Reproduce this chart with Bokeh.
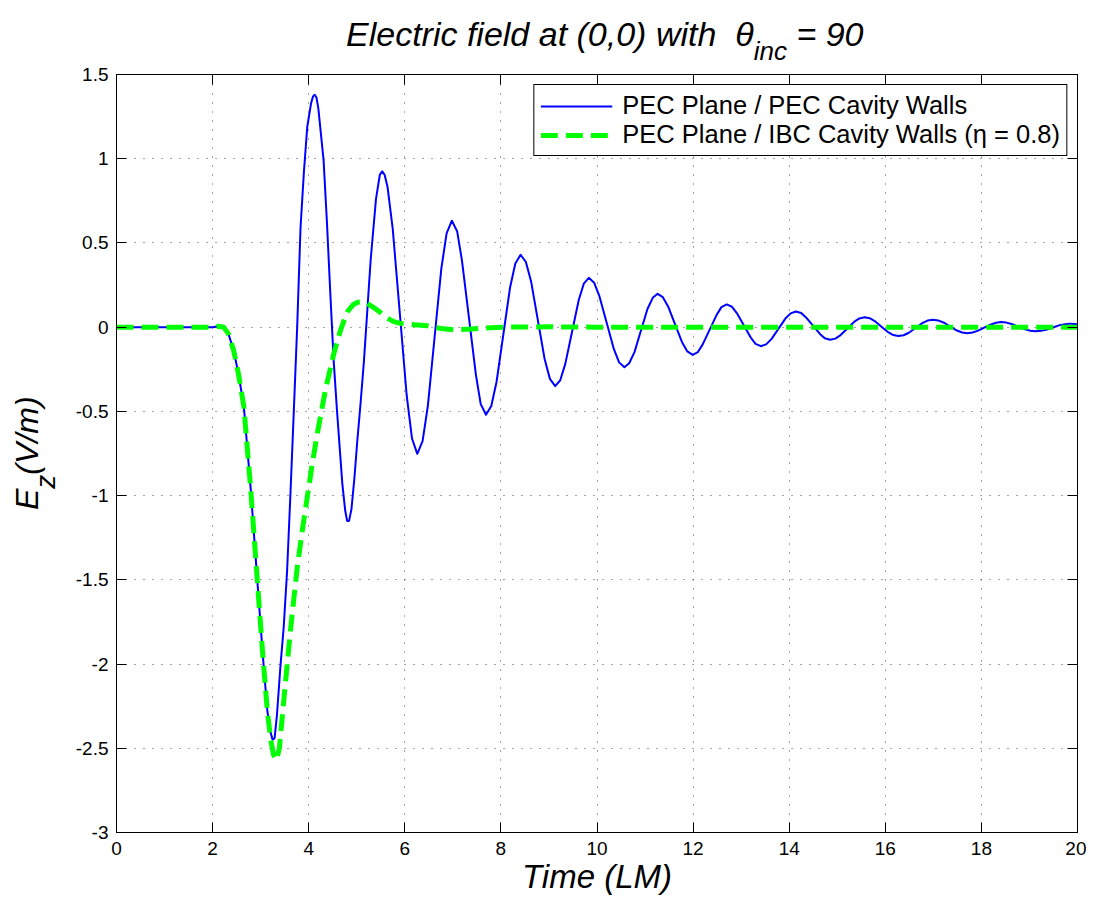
from bokeh.plotting import figure
from bokeh.models import Range1d, LinearAxis, FixedTicker, Div
from bokeh.layouts import column, row
from bokeh.embed import file_html
from bokeh.resources import INLINE

# ---- data ----
t_pec = [0.0, 1.0, 2.0, 2.12, 2.23, 2.33, 2.44, 2.54, 2.65, 2.79, 2.93, 3.04, 3.14, 3.21, 3.25, 3.29,
         3.34, 3.41, 3.48, 3.55, 3.62, 3.69, 3.76, 3.83, 3.90, 3.97, 4.05, 4.09, 4.125, 4.16,
         4.20, 4.31, 4.38, 4.45, 4.52, 4.59, 4.70, 4.76, 4.80, 4.84,
         4.89, 4.95, 5.01, 5.08, 5.15, 5.29, 5.40, 5.48, 5.53, 5.58,
         5.64, 5.75, 5.895, 6.04, 6.15, 6.26,
         6.37, 6.48, 6.62, 6.76, 6.87, 6.98,
         7.09, 7.19, 7.335, 7.48, 7.58, 7.69,
         7.80, 7.91, 8.05, 8.19, 8.30, 8.41,
         8.52, 8.63, 8.77, 8.91, 9.02, 9.13,
         9.235, 9.34, 9.48, 9.62, 9.725, 9.83,
         9.94, 10.05, 10.20, 10.35, 10.46, 10.57,
         10.67, 10.78, 10.915, 11.05, 11.16, 11.26,
         11.37, 11.48, 11.625, 11.77, 11.88, 11.99,
         12.10, 12.20, 12.345, 12.49, 12.59, 12.70,
         12.81, 12.91, 13.055, 13.20, 13.30, 13.41,
         13.52, 13.63, 13.775, 13.92, 14.03, 14.14,
         14.25, 14.35, 14.495, 14.64, 14.74, 14.85,
         14.96, 15.07, 15.21, 15.35, 15.46, 15.57,
         15.675, 15.78, 15.92, 16.06, 16.165, 16.27,
         16.38, 16.49, 16.63, 16.77, 16.88, 16.99,
         17.10, 17.21, 17.35, 17.49, 17.60, 17.71,
         17.815, 17.92, 18.06, 18.20, 18.305, 18.41,
         18.52, 18.63, 18.77, 18.91, 19.02, 19.13,
         19.24, 19.35, 19.49, 19.63, 19.74, 19.85, 20.0]
e_pec = [0.0, 0.0, 0.0, 0.005, 0.0, -0.04, -0.14, -0.28, -0.47, -0.95, -1.50, -1.93, -2.28, -2.41, -2.45, -2.44,
         -2.30, -2.02, -1.78, -1.45, -0.99, -0.50, 0.0, 0.59, 0.92, 1.19, 1.33, 1.37, 1.38, 1.365,
         1.30, 0.99, 0.62, 0.20, -0.20, -0.50, -0.93, -1.09, -1.15, -1.15,
         -1.08, -0.90, -0.68, -0.45, -0.20, 0.40, 0.76, 0.905, 0.925, 0.905,
         0.834, 0.580, 0.087, -0.407, -0.661, -0.752,
         -0.677, -0.467, -0.060, 0.347, 0.557, 0.632,
         0.569, 0.395, 0.056, -0.283, -0.457, -0.520,
         -0.468, -0.324, -0.045, 0.234, 0.378, 0.430,
         0.387, 0.269, 0.040, -0.189, -0.307, -0.350,
         -0.315, -0.218, -0.029, 0.161, 0.258, 0.293,
         0.264, 0.184, 0.028, -0.129, -0.209, -0.238,
         -0.214, -0.148, -0.020, 0.108, 0.174, 0.198,
         0.178, 0.123, 0.017, -0.089, -0.144, -0.164,
         -0.148, -0.102, -0.015, 0.073, 0.119, 0.135,
         0.121, 0.084, 0.011, -0.062, -0.099, -0.113,
         -0.102, -0.071, -0.010, 0.051, 0.082, 0.093,
         0.084, 0.058, 0.009, -0.040, -0.066, -0.075,
         -0.068, -0.047, -0.008, 0.031, 0.052, 0.059,
         0.053, 0.036, 0.003, -0.030, -0.047, -0.053,
         -0.048, -0.033, -0.005, 0.024, 0.039, 0.044,
         0.040, 0.028, 0.004, -0.020, -0.032, -0.036,
         -0.032, -0.022, -0.003, 0.016, 0.026, 0.030,
         0.027, 0.019, 0.003, -0.013, -0.021, -0.024,
         -0.022, -0.015, -0.002, 0.012, 0.018, 0.021, 0.018]

t_ibc = [0.0, 1.0, 2.0, 2.12, 2.23, 2.33, 2.44, 2.54, 2.65, 2.79, 2.93, 3.04, 3.14, 3.21, 3.27,
         3.33, 3.39, 3.48, 3.62, 3.76, 3.87, 3.97, 4.08, 4.18, 4.35, 4.52, 4.66, 4.80,
         4.93, 5.02, 5.11, 5.22, 5.36, 5.50, 5.63, 5.77, 5.91, 6.20, 6.47, 6.75, 7.02,
         7.30, 7.64, 8.0, 9.0, 10.0, 12.0, 14.0, 16.0, 18.0, 20.0]
e_ibc = [0.0, 0.0, 0.0, 0.005, 0.0, -0.04, -0.14, -0.28, -0.47, -0.95, -1.50, -1.93, -2.28, -2.45, -2.54,
         -2.57, -2.50, -2.22, -1.80, -1.43, -1.20, -1.01, -0.80, -0.63, -0.37, -0.16, -0.02, 0.09,
         0.135, 0.148, 0.150, 0.140, 0.115, 0.085, 0.055, 0.033, 0.022, 0.015, 0.008, -0.008, -0.016,
         -0.012, -0.005, 0.0, 0.002, 0.0, 0.0, 0.0, 0.0, 0.0, 0.0]

x_ticks = [0, 2, 4, 6, 8, 10, 12, 14, 16, 18, 20]
y_ticks = [-3, -2.5, -2, -1.5, -1, -0.5, 0, 0.5, 1, 1.5]
y_tick_labels = ["-3", "-2.5", "-2", "-1.5", "-1", "-0.5", "0", "0.5", "1", "1.5"]

FONT = "Liberation Sans"
TITLE_H = 60
YLAB_W = 60

p = figure(frame_width=961, frame_height=758,
           x_range=Range1d(0, 20), y_range=Range1d(-3, 1.5),
           output_backend="svg", toolbar_location=None,
           min_border_left=116 - YLAB_W, min_border_right=9,
           min_border_top=74 - TITLE_H, min_border_bottom=10)
p.background_fill_color = "white"
p.border_fill_color = "white"
p.outline_line_color = "black"
p.outline_line_width = 1

def style_axis(ax, show_labels, ticks):
    ax.ticker = FixedTicker(ticks=ticks)
    ax.axis_line_color = "black"
    ax.axis_line_width = 1
    ax.major_tick_in = 10
    ax.major_tick_out = 0
    ax.minor_tick_in = 0
    ax.minor_tick_out = 0
    ax.major_tick_line_color = "black"
    ax.major_label_text_font = FONT
    ax.major_label_text_color = "black"
    if show_labels:
        ax.major_label_text_font_size = "19px"
    else:
        ax.major_label_overrides = {t: "" for t in ticks}
        ax.major_label_text_font_size = "1px"
        ax.major_label_standoff = 0

xa = p.xaxis[0]
style_axis(xa, True, x_ticks)
xa.major_label_standoff = 9
xa.axis_label = "Time (LM)"
xa.axis_label_text_font = FONT
xa.axis_label_text_font_size = "33px"
xa.axis_label_text_font_style = "italic"
xa.axis_label_text_color = "black"
xa.axis_label_standoff = 0

ya = p.yaxis[0]
style_axis(ya, True, y_ticks)
ya.major_label_overrides = {v: s for v, s in zip(y_ticks, y_tick_labels)}
ya.major_label_standoff = 8

top = LinearAxis()
style_axis(top, False, x_ticks)
p.add_layout(top, "above")
right = LinearAxis()
style_axis(right, False, y_ticks)
p.add_layout(right, "right")

for g, tk in ((p.xgrid[0], x_ticks), (p.ygrid[0], y_ticks)):
    g.ticker = FixedTicker(ticks=tk)
    g.grid_line_color = "#222222"
    g.grid_line_width = 1
    g.grid_line_dash = "1 8"
    g.grid_line_alpha = 0.8

p.line(t_pec, e_pec, line_color="#0000FF", line_width=2, line_join="round",
       legend_label="PEC Plane / PEC Cavity Walls")
p.line(t_ibc, e_ibc, line_color="#00FF00", line_width=5, line_dash="17 8", line_cap="butt",
       line_join="round", legend_label="PEC Plane / IBC Cavity Walls (\u03b7 = 0.8)")

lg = p.legend[0]
lg.location = "top_right"
lg.margin = 10
lg.padding = 6
lg.spacing = 0
lg.glyph_width = 72
lg.glyph_height = 26
lg.label_height = 26
lg.label_standoff = 10
lg.label_text_font = FONT
lg.label_text_font_size = "25.5px"
lg.label_text_color = "black"
lg.label_text_baseline = "middle"
lg.border_line_color = "black"
lg.border_line_width = 1
lg.border_line_alpha = 1.0
lg.background_fill_color = "white"
lg.background_fill_alpha = 1.0

# title with subscript
title_html = (
    '<div style="position:relative;width:1086px;height:%dpx;">'
    '<div style="position:absolute;left:346px;top:17px;white-space:nowrap;'
    'font-family:\'Liberation Sans\';font-style:italic;font-size:34px;line-height:1;color:black;">'
    'Electric field at (0,0) with&nbsp;&nbsp;\u03b8'
    '<span style="font-size:26px;vertical-align:-14px;">inc</span> = 90</div></div>' % TITLE_H
)
title_div = Div(text=title_html, width=1086, height=TITLE_H, margin=0)

# rotated y label with subscript
YLAB_H = 758 + (74 - TITLE_H) + 71
ylab_html = (
    '<div style="position:relative;width:%dpx;height:%dpx;">'
    '<div style="position:absolute;left:11px;top:%dpx;transform-origin:0 0;transform:rotate(-90deg);'
    'white-space:nowrap;font-family:\'Liberation Sans\';font-style:italic;font-size:32px;'
    'line-height:1;color:black;">'
    'E<span style="font-size:28px;vertical-align:-17px;">z</span>(V/m)</div></div>'
    % (YLAB_W, YLAB_H, 510 - TITLE_H)
)
ylab_div = Div(text=ylab_html, width=YLAB_W, height=YLAB_H, margin=0)

layout = column(title_div, row(ylab_div, p, spacing=0), spacing=0)

open("out.html", "w").write(file_html(layout, INLINE))
